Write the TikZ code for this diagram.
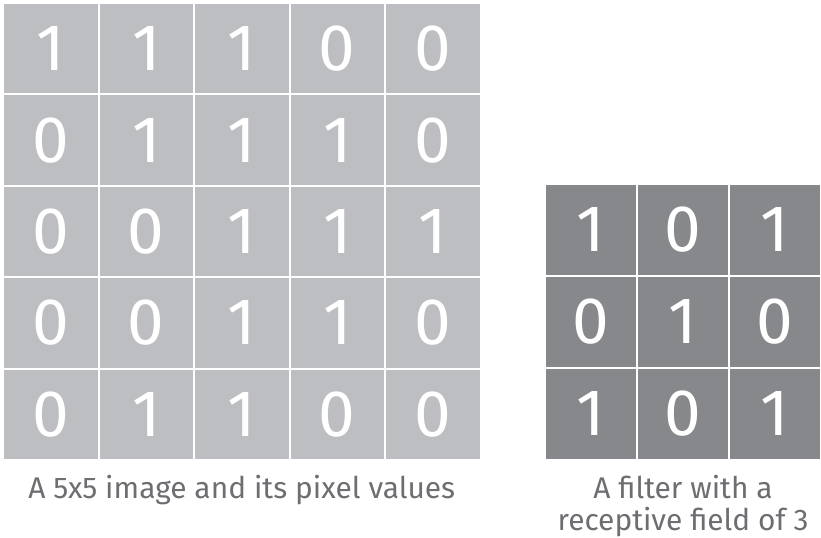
\documentclass[tikz,border=0pt]{standalone}
\usepackage{fontspec}
\setmainfont{Fira Sans}
\usetikzlibrary{positioning}

\definecolor{imggray}{HTML}{BDBEC2}
\definecolor{filtgray}{HTML}{87888C}
\definecolor{capgray}{HTML}{6D6E71}

\tikzset{
  pixel/.style={rectangle, draw=white, line width=2bp, text=white, inner sep=0pt,
    font=\fontsize{66}{66}\selectfont},
  imgcell/.style={pixel, fill=imggray, minimum width=95.5bp, minimum height=91.4bp},
  filtcell/.style={pixel, fill=filtgray, minimum width=92bp, minimum height=92bp},
  caption/.style={text=capgray, align=center, inner sep=0pt,
    font=\fontsize{30}{32}\selectfont}
}

\begin{document}
\begin{tikzpicture}[x=1bp, y=-1bp]

    \useasboundingbox (0,0) rectangle (821,538);

    % ==========================================
    % LEFT: 5x5 image
    % ==========================================
    \foreach \row [count=\r from 0] in {{1,1,1,0,0},{0,1,1,1,0},{0,0,1,1,1},{0,0,1,1,0},{0,1,1,0,0}} {
        \foreach \v [count=\c from 0] in \row {
            \node[imgcell] (img-\r-\c) at ({3+95.5*(\c+0.5)}, {3+91.4*(\r+0.5)}) {\v};
        }
    }

    \node[caption, below=14bp of img-4-2] (imgcap) {A 5x5 image and its pixel values};

    % ==========================================
    % RIGHT: 3x3 filter
    % ==========================================
    \foreach \row [count=\r from 0] in {{1,0,1},{0,1,0},{1,0,1}} {
        \foreach \v [count=\c from 0] in \row {
            \node[filtcell] (filt-\r-\c) at ({545+92*(\c+0.5)}, {184+92*(\r+0.5)}) {\v};
        }
    }

    \node[caption, below=14bp of filt-2-1] (filtcap) {A filter with a\\receptive field of 3};

\end{tikzpicture}
\end{document}
